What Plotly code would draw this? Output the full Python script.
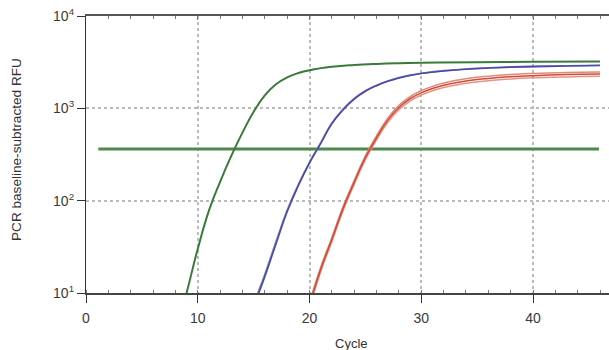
import plotly.graph_objects as go

# Data (cycle, RFU)
green_cycles = [8, 9, 10, 11, 12, 13, 14, 15, 16, 17, 18, 19, 20, 22, 24, 26, 28, 30, 35, 40, 46]
green_rfu = [3.5, 10, 30, 78, 160, 305, 545, 920, 1380, 1820, 2160, 2410, 2590, 2820, 2950, 3030, 3080, 3110, 3160, 3190, 3210]

blue_cycles = [14, 15, 16, 17, 18, 19, 20, 21, 22, 23, 24, 25, 26, 27, 28, 29, 30, 32, 34, 36, 38, 40, 43, 46]
blue_rfu_a = [3, 7, 15, 34, 76, 145, 255, 415, 680, 960, 1260, 1530, 1760, 1960, 2130, 2270, 2380, 2540, 2650, 2730, 2790, 2830, 2870, 2910]
blue_rfu_b = [3.2, 7.5, 16, 36, 79, 150, 262, 425, 695, 980, 1280, 1550, 1780, 1980, 2150, 2290, 2400, 2560, 2670, 2750, 2810, 2850, 2890, 2930]

red_cycles = [19, 20, 21, 22, 23, 24, 25, 26, 27, 28, 29, 30, 31, 32, 34, 36, 38, 40, 43, 46]
red_rfu_a = [3, 7.5, 18, 38, 82, 158, 292, 480, 740, 1020, 1270, 1470, 1640, 1780, 1980, 2110, 2200, 2260, 2320, 2350]
red_rfu_b = [3.2, 8, 19, 40, 86, 166, 306, 505, 780, 1080, 1340, 1550, 1730, 1880, 2090, 2230, 2330, 2390, 2450, 2480]
red_rfu_c = [2.8, 7, 17, 36, 78, 150, 278, 455, 700, 965, 1200, 1390, 1550, 1680, 1870, 1990, 2080, 2140, 2190, 2220]

threshold_cycles = [1.1, 45.9]
threshold_rfu = [362, 362]

x_ticks = [0, 10, 20, 30, 40]
y_ticks = [10, 100, 1000, 10000]
y_ticktext = ["10<sup>1</sup>", "10<sup>2</sup>", "10<sup>3</sup>", "10<sup>4</sup>"]

fig = go.Figure()

fig.add_trace(go.Scatter(x=threshold_cycles, y=threshold_rfu, mode="lines",
                         line=dict(color="#4f8a4c", width=3), showlegend=False))
for ys, col in [(red_rfu_c, "#e39585"), (red_rfu_b, "#e08a78"), (red_rfu_a, "#d04a36")]:
    fig.add_trace(go.Scatter(x=red_cycles, y=ys, mode="lines",
                             line=dict(color=col, width=1.5, shape="spline", smoothing=1.3),
                             showlegend=False))
for ys, col in [(blue_rfu_b, "#8080c4"), (blue_rfu_a, "#4a4aa2")]:
    fig.add_trace(go.Scatter(x=blue_cycles, y=ys, mode="lines",
                             line=dict(color=col, width=1.6, shape="spline", smoothing=1.3),
                             showlegend=False))
fig.add_trace(go.Scatter(x=green_cycles, y=green_rfu, mode="lines",
                         line=dict(color="#3a7a3a", width=2, shape="spline", smoothing=1.3),
                         showlegend=False))

# top axis (for inward minor ticks on the top border)
fig.add_trace(go.Scatter(x=[0], y=[10], xaxis="x2", mode="markers", marker=dict(opacity=0),
                         showlegend=False, hoverinfo="skip"))

font = dict(family="Liberation Sans, Arial, sans-serif", size=14, color="#3a3a3a")

fig.update_layout(
    width=609, height=350,
    margin=dict(l=86, r=0, t=16, b=57, autoexpand=False),
    paper_bgcolor="white", plot_bgcolor="white",
    font=font,
    xaxis=dict(range=[0, 46.8], tickvals=x_ticks, ticks="outside", ticklen=8, tickcolor="#333",
               showline=True, linecolor="#444", linewidth=1.5, showgrid=True, automargin=False,
               gridcolor="#bbbbbb", griddash="dot", gridwidth=1.5, zeroline=False,
               ticklabelstandoff=3,
               minor=dict(dtick=2, ticks="inside", ticklen=3, tickcolor="#777", showgrid=False)),
    xaxis2=dict(range=[0, 46.8], overlaying="x", side="top", showticklabels=False,
                ticks="inside", tickvals=x_ticks, ticklen=4, tickcolor="#777", automargin=False,
                showline=True, linecolor="#555", linewidth=1.5, showgrid=False, zeroline=False,
                minor=dict(dtick=2, ticks="inside", ticklen=3, tickcolor="#777")),
    yaxis=dict(type="log", range=[1, 4], tickvals=y_ticks, ticktext=y_ticktext,
               ticks="outside", ticklen=8, tickcolor="#333", automargin=False,
               showline=True, linecolor="#333", linewidth=1.2, showgrid=True,
               gridcolor="#bbbbbb", griddash="dot", gridwidth=1.5, zeroline=False),
    annotations=[
        dict(text="PCR baseline-subtracted RFU", xref="paper", yref="paper",
             x=(16 - 86) / 523, y=(293 - 150) / 277, textangle=-90, showarrow=False,
             xanchor="center", yanchor="middle", font=dict(size=13.6, color="#333")),
        dict(text="Cycle", xref="paper", yref="paper",
             x=(351 - 86) / 523, y=(293 - 343) / 277, showarrow=False,
             xanchor="center", yanchor="middle", font=dict(size=13, color="#333")),
    ],
)

fig.write_html("out.html", config={"displayModeBar": False},
               post_script="document.body.style.margin='0';document.body.style.overflow='hidden';")
